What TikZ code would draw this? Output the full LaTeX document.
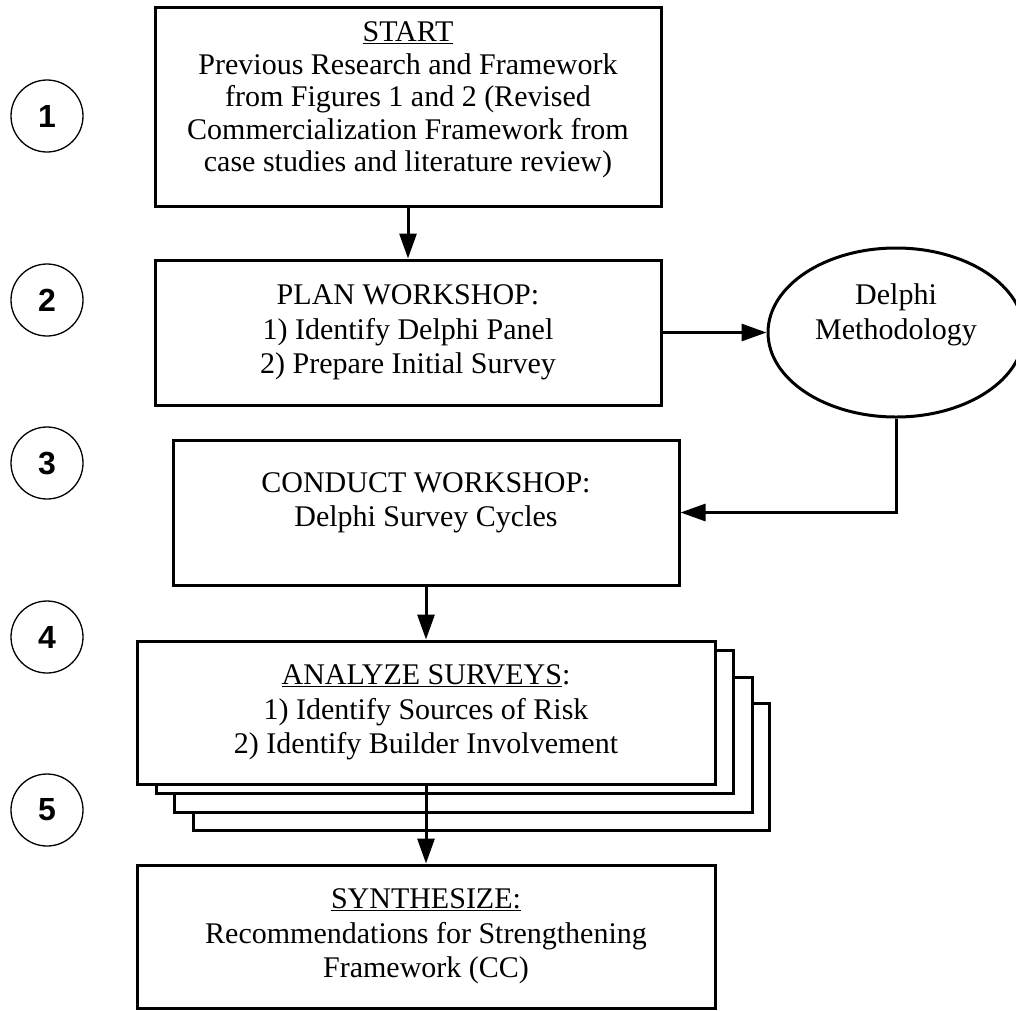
\documentclass[tikz,border=0pt]{standalone}
\usepackage{fontspec}
\setmainfont{Liberation Serif}
\newfontfamily\numfont{Liberation Sans}
\usetikzlibrary{arrows.meta,shapes.geometric}
\begin{document}
\begin{tikzpicture}[x=1pt,y=-1pt,
  box/.style={draw, line width=3pt, fill=white, inner sep=0pt},
  txt/.style={align=center, inner sep=0pt, font=\fontsize{30}{34.5}\selectfont},
  num/.style={draw, circle, line width=1.3pt, minimum size=72pt, inner sep=0pt, font=\numfont\bfseries\fontsize{32}{32}\selectfont},
  conn/.style={line width=3pt, -{Triangle[length=25pt,width=17pt]}},
  backbox/.style={draw, line width=3pt, fill=white}
]
\clip (0,0) rectangle (1016,1010);
\fill[white] (0,0) rectangle (1016,1010);

% step circles
\node[num] (c1) at (47,116) {1};
\node[num] (c2) at (47,300) {2};
\node[num] (c3) at (47,463) {3};
\node[num] (c4) at (47,637) {4};
\node[num] (c5) at (47,810) {5};

% box 1
\node[box, minimum width=506pt, minimum height=199pt] (b1) at (408,106.5) {};
\node[txt, font=\fontsize{30}{32.5}\selectfont] (t1) at (408,100) {\underline{START}\\Previous Research and Framework\\from Figures 1 and 2 (Revised\\Commercialization Framework from\\case studies and literature review)};

% box 2
\node[box, minimum width=506pt, minimum height=145pt] (b2) at (408,332.5) {};
\node[txt] (t2) at (408,332.5) {PLAN WORKSHOP:\\1) Identify Delphi Panel\\2) Prepare Initial Survey};

% Delphi ellipse
\node[draw, ellipse, line width=3pt, minimum width=256pt, minimum height=169pt, inner sep=0pt] (e) at (896,332.5) {};
\node[txt] (et) at (896,315) {Delphi\\Methodology};

% box 3
\node[box, minimum width=506pt, minimum height=145pt] (b3) at (426,512.5) {};
\node[txt] (t3) at (426,503) {CONDUCT WORKSHOP:\\Delphi Survey Cycles};

% box 4 stack
\draw[backbox] (193,703) rectangle (769,830);
\draw[backbox] (174,677) rectangle (752,812);
\draw[backbox] (156,650) rectangle (733,793);
\node[box, minimum width=578pt, minimum height=143pt] (b4) at (426,712.5) {};
\node[txt] (t4) at (426,712.5) {\underline{ANALYZE SURVEYS}:\\1) Identify Sources of Risk\\2) Identify Builder Involvement};

% box 5
\node[box, minimum width=578pt, minimum height=143pt] (b5) at (426,936.5) {};
\node[txt] (t5) at (426,936.5) {\underline{SYNTHESIZE:}\\Recommendations for Strengthening\\Framework (CC)};

% connectors
\draw[conn] (b1.south) -- (b2.north);
\draw[conn] (b2.east) -- (e.west);
\draw[conn] (e.south) |- (b3.east);
\draw[conn] (b3.south) -- (b4.north);
\draw[conn] (b4.south) -- (b5.north);
\end{tikzpicture}
\end{document}
